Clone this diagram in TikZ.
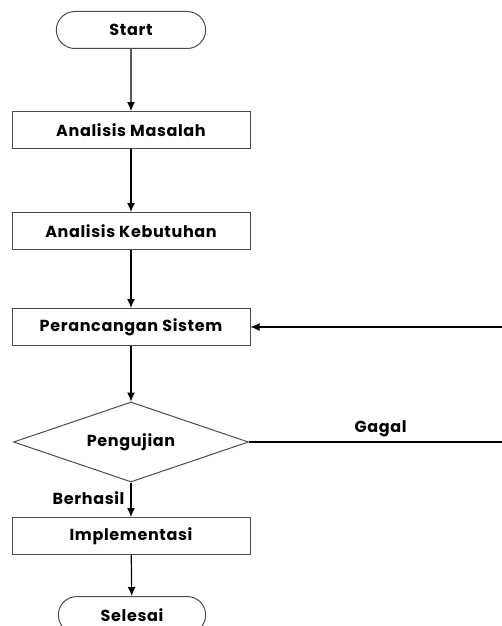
\documentclass[tikz,border=0pt]{standalone}
\usepackage{fontspec}
\setmainfont{Poppins}[LetterSpace=4]
\usetikzlibrary{positioning,shapes.geometric,shapes.misc,arrows.meta}

\begin{document}
\begin{tikzpicture}[
	x=1pt,y=-1pt,
	term/.style={
	  draw=black!70,
	  rounded rectangle,
	  line width=1pt,
	  minimum width=156pt,
	  minimum height=37pt,
	  font=\bfseries\fontsize{16}{18}\selectfont
	},
	proc/.style={
	  draw=black!70,
	  line width=1pt,
	  minimum width=238pt,
	  minimum height=37pt,
	  font=\bfseries\fontsize{16}{18}\selectfont
	},
	deci/.style={
	  draw=black!70,
	  diamond,
	  aspect=2.9,
	  inner sep=0pt,
	  line width=1pt,
	  minimum width=235pt,
	  minimum height=80pt,
	  font=\bfseries\fontsize{16}{18}\selectfont
	},
	lbl/.style={
	  font=\bfseries\fontsize{16}{18}\selectfont
	},
	arr/.style={line width=1.2pt,-{Latex[length=9pt,width=8pt]}}
]
\useasboundingbox (0,0) rectangle (502,626);

% terminal atas
\node[term] at (131,30) (start) {Start};

% proses
\node[proc] at (131,130) (masalah) {Analisis Masalah};
\node[proc] at (131,231) (butuh) {Analisis Kebutuhan};
\node[proc] at (131,327) (rancang) {Perancangan Sistem};

% keputusan
\node[deci] at (131,442) (uji) {Pengujian};

\node[proc] at (131,536) (impl) {Implementasi};

% terminal bawah
\node[term,minimum width=154pt] at (132,615) (selesai) {Selesai};

% panah utama
\draw[arr] (start) -- (masalah);
\draw[arr] (masalah) -- (butuh);
\draw[arr] (butuh) -- (rancang);
\draw[arr] (rancang) -- (uji);
\draw[arr] (uji) -- (impl);
\draw[arr] (impl) -- (selesai);

% label berhasil
\node[lbl,anchor=east] at (128,498) (berhasil) {Berhasil};

% jalur gagal
\coordinate (gagalujung) at (502,442);
\coordinate (balikujung) at (502,327);
\draw[line width=1.2pt] (uji.east) -- (gagalujung)
  node[lbl,pos=0.52,above=1pt] (gagal) {Gagal};
\draw[arr] (balikujung) -- (rancang.east);

\end{tikzpicture}
\end{document}
